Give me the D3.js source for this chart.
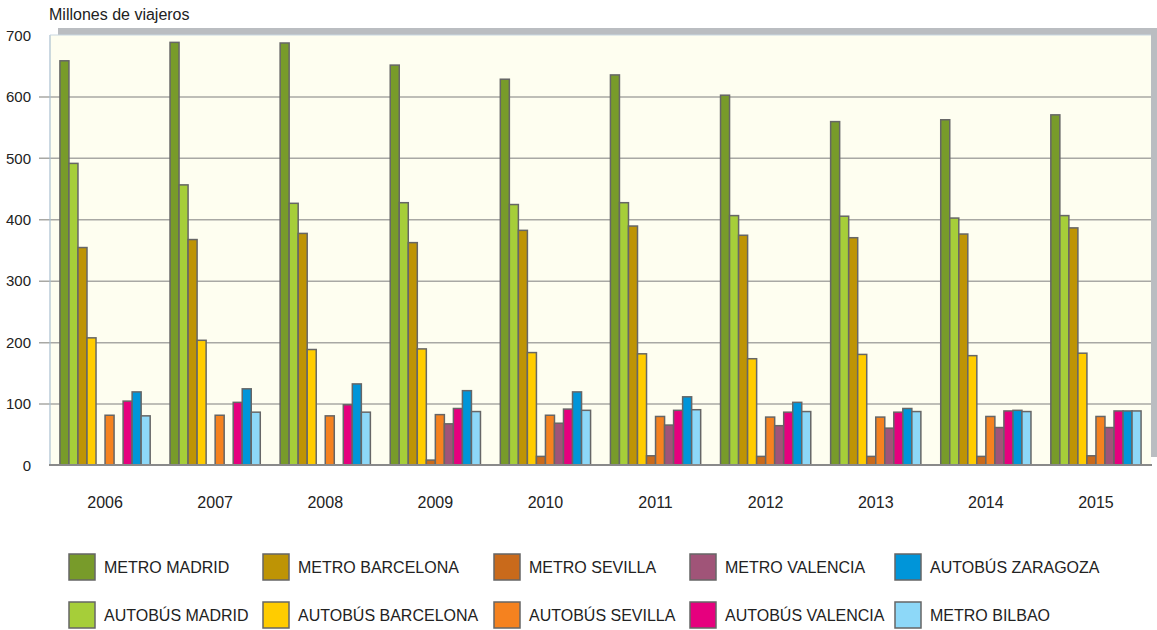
<!DOCTYPE html>
<html>
<head>
<meta charset="utf-8">
<script src="https://cdn.jsdelivr.net/npm/d3@7"></script>
<style>
  html, body { margin: 0; padding: 0; background: #ffffff; }
  svg { display: block; font-family: "Liberation Sans", Arial, Helvetica, sans-serif; }
</style>
</head>
<body>
<svg id="chart" width="1157" height="630"></svg>
<script>
// ---- DATA ----
const years = ["2006","2007","2008","2009","2010","2011","2012","2013","2014","2015"];
const seriesNames = ["METRO MADRID","AUTOBÚS MADRID","METRO BARCELONA","AUTOBÚS BARCELONA","METRO SEVILLA","AUTOBÚS SEVILLA","METRO VALENCIA","AUTOBÚS VALENCIA","AUTOBÚS ZARAGOZA","METRO BILBAO"];
const metroMadrid      = [658, 688, 687, 651, 628, 635, 602, 559, 562, 570];
const autobusMadrid    = [491, 456, 426, 427, 424, 427, 406, 405, 402, 406];
const metroBarcelona   = [354, 367, 377, 362, 382, 389, 374, 370, 376, 386];
const autobusBarcelona = [207, 203, 188, 189, 183, 181, 173, 180, 178, 182];
const metroSevilla     = [null, null, null, 8, 14, 15, 14, 14, 14, 15];
const autobusSevilla   = [81, 81, 80, 82, 81, 79, 78, 78, 79, 79];
const metroValencia    = [null, null, null, 67, 68, 65, 64, 60, 61, 61];
const autobusValencia  = [104, 102, 98, 92, 91, 89, 86, 86, 88, 88];
const autobusZaragoza  = [119, 124, 132, 121, 119, 111, 102, 92, 89, 88];
const metroBilbao      = [80, 86, 86, 87, 89, 90, 87, 87, 87, 88];
const yTicks = [0, 100, 200, 300, 400, 500, 600, 700];
const yTitle = "Millones de viajeros";

const seriesValues = [metroMadrid, autobusMadrid, metroBarcelona, autobusBarcelona, metroSevilla,
                      autobusSevilla, metroValencia, autobusValencia, autobusZaragoza, metroBilbao];
const colors = ["#789b2a","#a6ce39","#be9405","#ffcc00","#c96a1b","#f5821f","#a05478","#e6007e","#0095d9","#8dd8f8"];

// ---- LAYOUT ----
const svg = d3.select("#chart");
const plot = {left: 50, right: 1151, top: 35, bottom: 465};

const x0 = d3.scaleBand().domain(years).range([plot.left, plot.right]).paddingInner(0).paddingOuter(0);
const x1 = d3.scaleBand().domain(d3.range(seriesNames.length)).range([0, x0.bandwidth()]).paddingInner(0).paddingOuter(1.1);
const y = d3.scaleLinear().domain([0, 700]).range([plot.bottom, plot.top]);

// 3D-like back wall bands
svg.append("rect").attr("x", plot.left + 8).attr("y", plot.top - 7)
   .attr("width", 1157 - plot.left - 8).attr("height", 7).attr("fill", "#babdc1");
svg.append("rect").attr("x", plot.right).attr("y", plot.top - 7)
   .attr("width", 6).attr("height", plot.bottom - 8 - (plot.top - 7)).attr("fill", "#babdc1");

// plot background
svg.append("rect").attr("x", plot.left).attr("y", plot.top)
   .attr("width", plot.right - plot.left).attr("height", plot.bottom - plot.top)
   .attr("fill", "#fefef0");

// gridlines + y labels via axis
const yAxis = d3.axisLeft(y).tickValues(yTicks)
  .tickSize(-(plot.right - plot.left) - 11).tickPadding(8).tickFormat(d3.format("d"));
const gy = svg.append("g").attr("transform", `translate(${plot.left - 11},0)`).call(yAxis);
gy.select(".domain").remove();
gy.selectAll(".tick line").attr("stroke", "#a8a8a4").attr("stroke-width", 1.5)
  .filter(d => d === 0 || d === 700).remove();
gy.selectAll(".tick text").attr("fill", "#222").style("font-size", "15px")
  .attr("x", -8).attr("dy", "0.35em");

// left axis line
svg.append("line").attr("x1", plot.left).attr("x2", plot.left)
   .attr("y1", plot.top).attr("y2", plot.bottom)
   .attr("stroke", "#a9bfcf").attr("stroke-width", 1.2);
svg.append("line").attr("x1", plot.left).attr("x2", plot.right)
   .attr("y1", plot.top).attr("y2", plot.top)
   .attr("stroke", "#c8d6e0").attr("stroke-width", 1);

// bars
const groups = svg.append("g").selectAll("g").data(years).join("g")
  .attr("transform", d => `translate(${x0(d)},0)`);
groups.selectAll("rect")
  .data((yr, i) => seriesValues.map((vals, s) => ({s, v: vals[i]})).filter(d => d.v !== null))
  .join("rect")
  .attr("x", d => x1(d.s))
  .attr("width", x1.bandwidth())
  .attr("y", d => y(d.v))
  .attr("height", d => y(0) - y(d.v))
  .attr("fill", d => colors[d.s])
  .attr("stroke", "#666666")
  .attr("stroke-width", 1.5);

// baseline
svg.append("line").attr("x1", plot.left - 1).attr("x2", plot.right + 1)
   .attr("y1", plot.bottom).attr("y2", plot.bottom)
   .attr("stroke", "#8a8a8a").attr("stroke-width", 2);

// x labels
const xAxis = d3.axisBottom(x0).tickSize(0).tickPadding(0);
const gx = svg.append("g").attr("transform", `translate(0,${plot.bottom})`).call(xAxis);
gx.select(".domain").remove();
gx.selectAll(".tick text").attr("fill", "#222")
  .style("font-size", "16px")
  .attr("y", 43).attr("dy", 0);

// y title
svg.append("text").attr("x", 49).attr("y", 20).attr("fill", "#222")
   .style("font-size", "16px").text(yTitle);

// legend (column-major: 5 columns x 2 rows)
const legendCols = [69, 263, 494, 690, 895];
const legendRows = [554, 602];
const lg = svg.append("g").selectAll("g").data(seriesNames).join("g")
  .attr("transform", (d, i) => `translate(${legendCols[Math.floor(i / 2)]},${legendRows[i % 2]})`);
lg.append("rect").attr("width", 26).attr("height", 26)
  .attr("fill", (d, i) => colors[i]).attr("stroke", "#666").attr("stroke-width", 1.5);
lg.append("text").attr("x", 35).attr("y", 19).attr("fill", "#222")
  .style("font-size", "16px").text(d => d);
</script>
</body>
</html>
